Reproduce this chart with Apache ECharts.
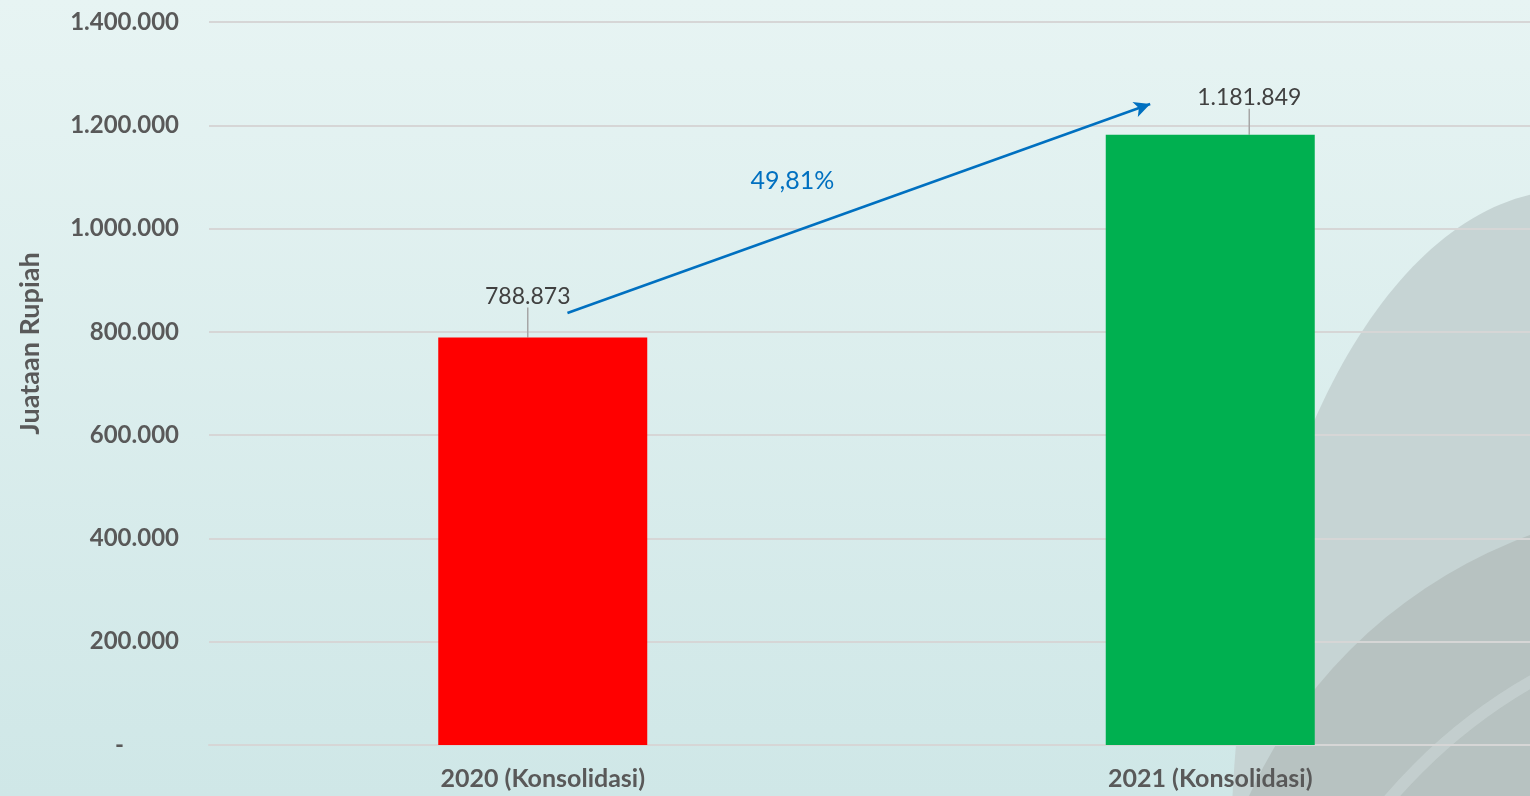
<!DOCTYPE html>
<html>
<head>
<meta charset="utf-8">
<script src="https://cdn.jsdelivr.net/npm/echarts@6/dist/echarts.min.js"></script>
<style>
  html, body { margin: 0; padding: 0; }
  #chart { width: 1530px; height: 796px; }
</style>
</head>
<body>
<div id="chart"></div>
<script>
// data
const categories = ['2020 (Konsolidasi)', '2021 (Konsolidasi)'];
const values = [788873, 1181849];
const barColors = ['#ff0000', '#00b050'];
const yTicks = [0, 200000, 400000, 600000, 800000, 1000000, 1200000, 1400000];
const yName = 'Juataan Rupiah';

// growth arrow endpoints, [category position, value]
const arrowFrom = [0.037, 836500];
const arrowTo = [0.91, 1241200];
const growthLabelAt = [0.374, 1092000];

const fmt = v => String(v).replace(/\B(?=(\d{3})+(?!\d))/g, '.');
const growth = ((values[1] / values[0] - 1) * 100).toFixed(2).replace('.', ',') + '%';

const chart = echarts.init(document.getElementById('chart'));

const option = {
  animation: false,
  backgroundColor: new echarts.graphic.LinearGradient(0, 0, 0, 1, [
    { offset: 0, color: '#e7f4f3' },
    { offset: 1, color: '#cfe7e7' }
  ]),
  textStyle: { fontFamily: 'Lato' },
  // decorative grey curves behind the plot (right side)
  graphic: [
    { type: 'ellipse', silent: true, z: -10, shape: { cx: 1571, cy: 860, rx: 340, ry: 670 }, style: { fill: '#c6d4d4' } },
    { type: 'circle', silent: true, z: -9, shape: { cx: 1700, cy: 1000, r: 495 }, style: { fill: '#b7c2c1' } },
    { type: 'circle', silent: true, z: -8, shape: { cx: 1800, cy: 1150, r: 540 }, style: { fill: 'none', stroke: 'rgba(210,222,222,0.45)', lineWidth: 12 } }
  ],
  grid: { left: 209, width: 1335, top: 22, bottom: 51, outerBoundsMode: 'none' },
  xAxis: [
    {
      type: 'category',
      data: categories,
      axisTick: { show: false },
      axisLine: { lineStyle: { color: '#d6d6d6', width: 2 } },
      axisLabel: { color: '#595959', fontSize: 25, fontWeight: 'bold', margin: 21 }
    },
    { type: 'value', min: -0.5, max: 1.5, show: false }
  ],
  yAxis: {
    type: 'value',
    min: yTicks[0],
    max: yTicks[yTicks.length - 1],
    interval: yTicks[1] - yTicks[0],
    name: yName,
    nameLocation: 'middle',
    nameGap: 165,
    nameTextStyle: { color: '#595959', fontSize: 27, fontWeight: 'bold', padding: [0, 0, 0, 80] },
    axisLine: { show: false },
    axisTick: { show: false },
    splitLine: { lineStyle: { color: '#d6d6d6', width: 2 } },
    axisLabel: {
      color: '#595959', fontSize: 24, fontWeight: 'bold', margin: 30,
      formatter: v => v === 0 ? '{d|-}' : fmt(v),
      rich: { d: { color: '#595959', fontSize: 24, fontWeight: 'bold', padding: [0, 55, 0, 0] } }
    }
  },
  series: [
    {
      type: 'bar',
      barWidth: 209,
      data: values.map((v, i) => ({ value: v, itemStyle: { color: barColors[i] } })),
      label: {
        show: true,
        position: 'top',
        color: '#404040',
        fontSize: 23,
        formatter: p => fmt(p.value)
      },
      labelLayout: p => p.dataIndex === 0 ? { dx: -15, dy: -25 } : { dx: 39, dy: -21 },
      labelLine: { show: true, lineStyle: { color: '#a6a6a6', width: 1.5 } }
    },
    {
      type: 'line',
      xAxisIndex: 1,
      data: [],
      markLine: {
        silent: true,
        symbol: ['none', 'arrow'],
        symbolSize: [12, 16],
        label: { show: false },
        lineStyle: { color: '#0070c0', width: 2.5, type: 'solid' },
        data: [[{ coord: arrowFrom }, { coord: arrowTo }]]
      },
      markPoint: {
        silent: true,
        symbol: 'circle',
        symbolSize: 1,
        itemStyle: { color: 'rgba(0,0,0,0)' },
        label: { show: true, position: 'inside', color: '#0070c0', fontSize: 25, formatter: growth },
        data: [{ coord: growthLabelAt }]
      }
    }
  ]
};

chart.setOption(option);
</script>
</body>
</html>
